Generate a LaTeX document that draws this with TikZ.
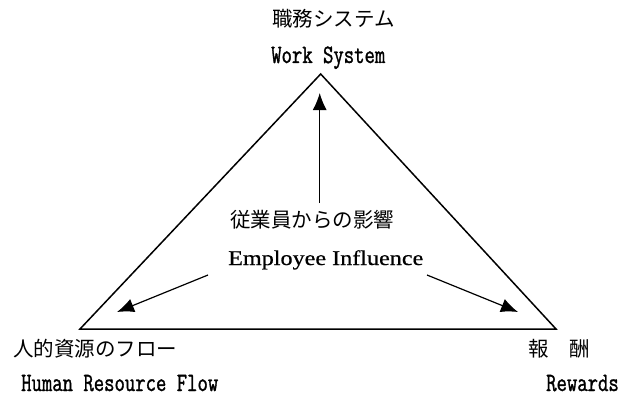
\documentclass[tikz,border=0pt]{standalone}
\usepackage{fontspec}
\usetikzlibrary{arrows.meta}
\newfontfamily\jpfont{Noto Sans CJK JP}
\newfontfamily\narrowmono[FakeStretch=0.76,FakeBold=1.2]{Latin Modern Mono}
\newfontfamily\wideserif[FakeStretch=1.15,FakeBold=0.6]{Liberation Serif}
\begin{document}
\begin{tikzpicture}[x=1pt,y=-1pt,
  jp/.style={font=\jpfont\fontsize{20.5}{24}\selectfont, inner sep=0pt, anchor=west},
  en/.style={font=\narrowmono\fontsize{26.5}{30}\selectfont, inner sep=0pt, text depth=0pt, anchor=base west},
  ei/.style={font=\wideserif\fontsize{21}{24}\selectfont, inner sep=0pt, anchor=base west},
  tri/.style={line width=1.5pt, line join=miter},
  arr/.style={line width=1.2pt, -{Latex[length=17pt,width=14pt]}}]
\useasboundingbox (0,0) rectangle (623,396);
% corners
\coordinate (A) at (320.7,74);
\coordinate (L) at (80,329);
\coordinate (R) at (556,329);
\draw[tri] (A) -- (R) -- (L) -- cycle;
% labels
\node[jp] (ws-jp) at (272,18.5) {職務システム};
\node[en] (ws-en) at (271,63) {Work System};
\node[jp] (ei-jp) at (230,220) {従業員からの影響};
\node[ei] (ei-en) at (228,265) {Employee Influence};
\node[jp] (hr-jp) at (13,348.5) {人的資源のフロー};
\node[en] (hr-en) at (21,391) {Human Resource Flow};
\node[jp] (rw-jp) at (528,348.5) {報　酬};
\node[en] (rw-en) at (546,391) {Rewards};
% arrows
\coordinate (v0) at (319.7,203);
\coordinate (v1) at (319.7,93);
\coordinate (l0) at (208,275);
\coordinate (l1) at (117,312);
\coordinate (r0) at (427,275);
\coordinate (r1) at (518,312);
\draw[arr] (v0) -- (v1);
\draw[arr] (l0) -- (l1);
\draw[arr] (r0) -- (r1);
\end{tikzpicture}
\end{document}
